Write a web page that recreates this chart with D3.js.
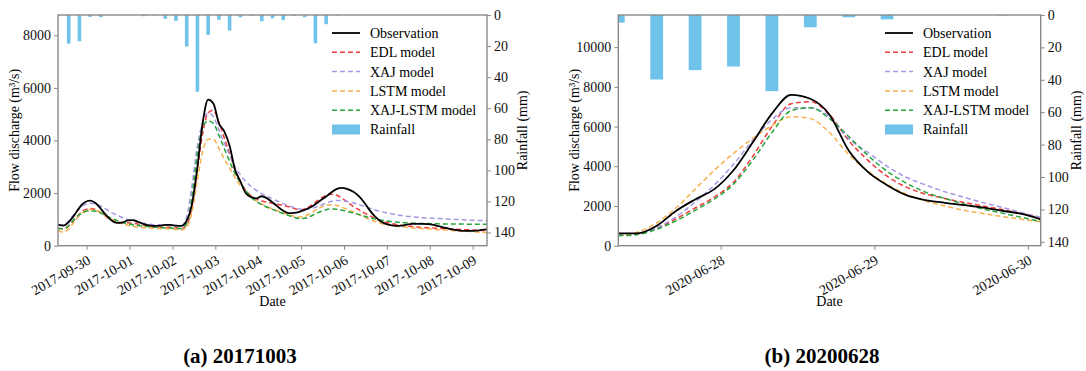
<!DOCTYPE html>
<html>
<head>
<meta charset="utf-8">
<script src="https://cdn.jsdelivr.net/npm/d3@7"></script>
<style>
  body { margin: 0; background: #fff; }
</style>
</head>
<body>
<svg id="chart" width="1086" height="371"></svg>
<script>
// ---- data: event (a) 20171003, flow every 3 h from 2017-09-29 08:00, rain every 6 h
const flowStartA = '2017-09-29T08:00:00Z';
const rainStartA = '2017-09-29T08:00:00Z';
const obsA = [790, 760, 900, 1150, 1450, 1650, 1710, 1620, 1400, 1150, 960, 870, 880, 960, 970, 900, 820, 770, 750, 760, 790, 790, 760, 750, 950, 1600, 3000, 4700, 5550, 5400, 4650, 4350, 3800, 2900, 2450, 2000, 1850, 1800, 1880, 1800, 1650, 1480, 1330, 1240, 1250, 1290, 1360, 1450, 1580, 1730, 1870, 2030, 2160, 2200, 2150, 2060, 1900, 1670, 1380, 1130, 950, 840, 780, 750, 760, 800, 830, 830, 830, 820, 790, 740, 690, 640, 600, 570, 560, 560, 570, 600, 620];
const edlA = [660, 640, 760, 980, 1200, 1360, 1410, 1370, 1250, 1100, 980, 910, 880, 870, 850, 820, 780, 740, 720, 710, 700, 700, 680, 650, 800, 1500, 2900, 4300, 5050, 5150, 4700, 4100, 3500, 2900, 2450, 2100, 1900, 1780, 1700, 1650, 1610, 1570, 1530, 1480, 1420, 1360, 1400, 1500, 1650, 1800, 1920, 1960, 1920, 1800, 1650, 1500, 1380, 1260, 1150, 1050, 970, 900, 850, 810, 780, 750, 730, 710, 690, 680, 670, 660, 650, 640, 630, 620, 610, 600, 590, 580, 570];
const xajA = [800, 810, 940, 1200, 1420, 1560, 1610, 1590, 1500, 1380, 1260, 1160, 1070, 1000, 940, 890, 850, 820, 800, 790, 780, 770, 760, 760, 1100, 2300, 3800, 4700, 5050, 4900, 4400, 3900, 3450, 3000, 2700, 2450, 2250, 2100, 1980, 1880, 1780, 1690, 1600, 1520, 1450, 1400, 1380, 1400, 1460, 1540, 1620, 1690, 1720, 1710, 1680, 1630, 1570, 1500, 1430, 1370, 1310, 1260, 1220, 1180, 1150, 1120, 1100, 1080, 1060, 1050, 1040, 1030, 1020, 1010, 1000, 990, 980, 970, 960, 955, 950];
const lstmA = [560, 520, 640, 900, 1150, 1310, 1380, 1350, 1250, 1120, 1000, 900, 830, 780, 740, 710, 690, 670, 660, 650, 640, 640, 620, 600, 700, 1300, 2500, 3600, 4050, 4050, 3700, 3300, 2950, 2600, 2300, 2050, 1850, 1700, 1580, 1480, 1400, 1320, 1250, 1180, 1120, 1090, 1120, 1220, 1350, 1460, 1540, 1560, 1530, 1460, 1380, 1290, 1190, 1100, 1010, 930, 860, 810, 770, 740, 720, 700, 680, 670, 650, 640, 630, 610, 600, 590, 570, 560, 550, 540, 520, 510, 500];
const xajLstmA = [640, 640, 760, 1000, 1180, 1290, 1330, 1310, 1240, 1140, 1040, 960, 890, 840, 800, 770, 740, 720, 700, 690, 680, 670, 660, 650, 850, 1900, 3500, 4500, 4750, 4650, 4200, 3700, 3200, 2750, 2400, 2100, 1850, 1680, 1560, 1460, 1380, 1300, 1220, 1150, 1080, 1030, 1040, 1110, 1210, 1300, 1370, 1400, 1390, 1350, 1300, 1250, 1190, 1130, 1070, 1020, 980, 950, 920, 900, 880, 870, 860, 850, 845, 840, 835, 830, 828, 826, 824, 822, 820, 818, 816, 814, 812];
const rainA = [0.3, 18.4, 16.9, 1.2, 1.4, 0, 0, 0, 0.8, 0.4, 2.5, 3.8, 20.3, 49.4, 12.8, 3.1, 10, 1.4, 0.5, 4, 2.1, 3.3, 0.5, 1.4, 18.2, 5.9, 0.5, 0, 0, 0, 0, 0, 0, 0, 0, 0, 0, 0, 0, 0, 0];
const dateTicksA = ['2017-09-30', '2017-10-01', '2017-10-02', '2017-10-03', '2017-10-04', '2017-10-05', '2017-10-06', '2017-10-07', '2017-10-08', '2017-10-09'];

// ---- data: event (b) 20200628, flow every 3 h from 2020-06-27 08:00, rain every 6 h
const flowStartB = '2020-06-27T08:00:00Z';
const rainStartB = '2020-06-27T08:00:00Z';
const obsB = [620, 620, 1000, 1750, 2330, 2850, 3800, 5200, 6650, 7600, 7400, 6600, 4800, 3720, 3050, 2550, 2300, 2160, 2040, 1920, 1760, 1600, 1330];
const edlB = [520, 600, 880, 1350, 1900, 2450, 3200, 4500, 6000, 7150, 7250, 6600, 5300, 4300, 3500, 2950, 2600, 2380, 2180, 2000, 1820, 1620, 1380];
const xajB = [560, 620, 900, 1450, 2200, 3050, 4100, 5300, 6350, 6950, 6950, 6500, 5400, 4700, 4000, 3450, 3060, 2720, 2440, 2170, 1930, 1670, 1430];
const lstmB = [520, 680, 1150, 1900, 2850, 3800, 4650, 5400, 6050, 6500, 6400, 5700, 4600, 3750, 3100, 2600, 2250, 2000, 1780, 1620, 1470, 1330, 1210];
const xajLstmB = [500, 560, 820, 1250, 1780, 2350, 3100, 4300, 5700, 6800, 6950, 6400, 5500, 4550, 3750, 3150, 2700, 2380, 2100, 1850, 1640, 1430, 1210];
const rainB = [4.7, 39.8, 34, 31.8, 47, 7.6, 1.4, 2.7, 0, 0, 0.3, 0];
const dateTicksB = ['2020-06-28', '2020-06-29', '2020-06-30'];

const seriesNames = ['Observation', 'EDL model', 'XAJ model', 'LSTM model', 'XAJ-LSTM model'];
const seriesColors = ['#000000', '#ee3b3b', '#a597e6', '#f7b04e', '#27a43c'];
const rainColor = '#6fc2e9';

const svg = d3.select('#chart');
const serif = "'Liberation Serif', 'Times New Roman', 'DejaVu Serif', serif";
const axisGray = '#8a8a8a';
const fontSize = 14;

function drawPanel(opt) {
  const { left, right, top, bottom } = opt.box;
  const x = d3.scaleUtc().domain(opt.xDomain.map(d => new Date(d))).range([left, right]);
  const y = d3.scaleLinear().domain([0, opt.flowMax]).range([bottom, top]);
  const yr = d3.scaleLinear().domain([0, opt.rainMax]).range([top, bottom]);

  const g = svg.append('g');
  const clipId = 'clip-' + opt.id;
  g.append('clipPath').attr('id', clipId)
    .append('rect').attr('x', left).attr('y', top).attr('width', right - left).attr('height', bottom - top);

  const plot = g.append('g').attr('clip-path', `url(#${clipId})`);

  // rainfall bars hanging from the top
  const rainTimes = opt.rain.map((_, i) => d3.utcHour.offset(new Date(opt.rainStart), 6 * i));
  const barW = x(d3.utcHour.offset(rainTimes[0], 2.4)) - x(rainTimes[0]);
  plot.selectAll('rect.rain')
    .data(opt.rain)
    .enter().append('rect')
    .attr('class', 'rain')
    .attr('x', (d, i) => x(rainTimes[i]) - barW / 2)
    .attr('y', yr(0))
    .attr('width', barW)
    .attr('height', d => yr(d) - yr(0))
    .attr('fill', rainColor);

  // flow lines
  const flowTimes = opt.series[0].map((_, i) => d3.utcHour.offset(new Date(opt.flowStart), 3 * i));
  const line = d3.line()
    .x((d, i) => x(flowTimes[i]))
    .y(d => y(d))
    .curve(d3.curveMonotoneX);

  // draw models first, observation on top
  [1, 2, 3, 4, 0].forEach(k => {
    plot.append('path')
      .datum(opt.series[k])
      .attr('fill', 'none')
      .attr('stroke', seriesColors[k])
      .attr('stroke-width', k === 0 ? 1.8 : 1.5)
      .attr('stroke-dasharray', k === 0 ? null : '5,3')
      .attr('d', line);
  });

  // axes
  const xAxis = g.append('g')
    .attr('transform', `translate(0,${bottom})`)
    .call(d3.axisBottom(x)
      .tickValues(opt.dateTicks.map(d => new Date(d + 'T00:00:00Z')))
      .tickFormat(d3.utcFormat('%Y-%m-%d'))
      .tickSizeInner(4).tickSizeOuter(0));
  xAxis.selectAll('text')
    .attr('text-anchor', 'end')
    .attr('dy', '0.35em')
    .attr('y', 0)
    .attr('transform', 'translate(2,13) rotate(-30)');

  g.append('g')
    .attr('transform', `translate(${left},0)`)
    .call(d3.axisLeft(y).tickValues(opt.flowTicks).tickFormat(d3.format('d')).tickSizeInner(4).tickSizeOuter(0).tickPadding(3));

  g.append('g')
    .attr('transform', `translate(${right},0)`)
    .call(d3.axisRight(yr).tickValues([0, 20, 40, 60, 80, 100, 120, 140]).tickSizeInner(4).tickSizeOuter(0).tickPadding(3));

  g.selectAll('.tick text')
    .attr('font-size', fontSize)
    .attr('fill', '#111');
  g.selectAll('.tick line').attr('stroke', axisGray).attr('stroke-width', 1);
  g.selectAll('.domain').remove();

  // frame
  g.append('rect')
    .attr('x', left).attr('y', top)
    .attr('width', right - left).attr('height', bottom - top)
    .attr('fill', 'none')
    .attr('stroke', axisGray)
    .attr('stroke-width', 1.4);

  // axis titles
  g.append('text')
    .attr('transform', `translate(${left - 39},${(top + bottom) / 2}) rotate(-90)`)
    .attr('text-anchor', 'middle')
    .attr('font-size', fontSize)
    .text('Flow discharge (m³/s)');
  g.append('text')
    .attr('transform', `translate(${right + 40},${(top + bottom) / 2}) rotate(-90)`)
    .attr('text-anchor', 'middle')
    .attr('font-size', fontSize)
    .text('Rainfall (mm)');
  g.append('text')
    .attr('x', (left + right) / 2).attr('y', 306)
    .attr('text-anchor', 'middle')
    .attr('font-size', fontSize)
    .text('Date');

  // legend
  const lg = g.append('g').attr('transform', `translate(${opt.legendX},33)`);
  const items = lg.selectAll('g.item')
    .data(seriesNames.concat(['Rainfall']))
    .enter().append('g')
    .attr('class', 'item')
    .attr('transform', (d, i) => `translate(0,${i * 19.3})`);
  items.each(function(d, i) {
    const it = d3.select(this);
    if (i < seriesNames.length) {
      it.append('line')
        .attr('x1', 0).attr('x2', 28).attr('y1', 0).attr('y2', 0)
        .attr('stroke', seriesColors[i])
        .attr('stroke-width', i === 0 ? 1.8 : 1.5)
        .attr('stroke-dasharray', i === 0 ? null : '5,3');
    } else {
      it.append('rect')
        .attr('x', 0).attr('y', -5).attr('width', 28).attr('height', 10)
        .attr('fill', rainColor);
    }
    it.append('text')
      .attr('x', 38).attr('y', 0).attr('dy', '0.35em')
      .attr('font-size', fontSize)
      .text(d);
  });

  // panel caption
  svg.append('text')
    .attr('x', opt.captionX).attr('y', 363)
    .attr('text-anchor', 'middle')
    .attr('font-size', 21)
    .attr('font-weight', 'bold')
    .text(opt.caption);
}

drawPanel({
  id: 'a',
  box: { left: 58, right: 487, top: 15, bottom: 245.7 },
  xDomain: ['2017-09-29T08:00:00Z', '2017-10-09T08:00:00Z'],
  flowMax: 8770, rainMax: 148.5,
  flowTicks: [0, 2000, 4000, 6000, 8000],
  flowStart: flowStartA, rainStart: rainStartA,
  series: [obsA, edlA, xajA, lstmA, xajLstmA],
  rain: rainA,
  dateTicks: dateTicksA,
  legendX: 332,
  caption: '(a) 20171003', captionX: 240
});

drawPanel({
  id: 'b',
  box: { left: 618.3, right: 1040.7, top: 15, bottom: 245.7 },
  xDomain: ['2020-06-27T08:00:00Z', '2020-06-30T02:00:00Z'],
  flowMax: 11620, rainMax: 142.4,
  flowTicks: [0, 2000, 4000, 6000, 8000, 10000],
  flowStart: flowStartB, rainStart: rainStartB,
  series: [obsB, edlB, xajB, lstmB, xajLstmB],
  rain: rainB,
  dateTicks: dateTicksB,
  legendX: 885,
  caption: '(b) 20200628', captionX: 822
});

// every label in the serif face used by the original figure
svg.selectAll('text').style('font-family', serif);
</script>
</body>
</html>
